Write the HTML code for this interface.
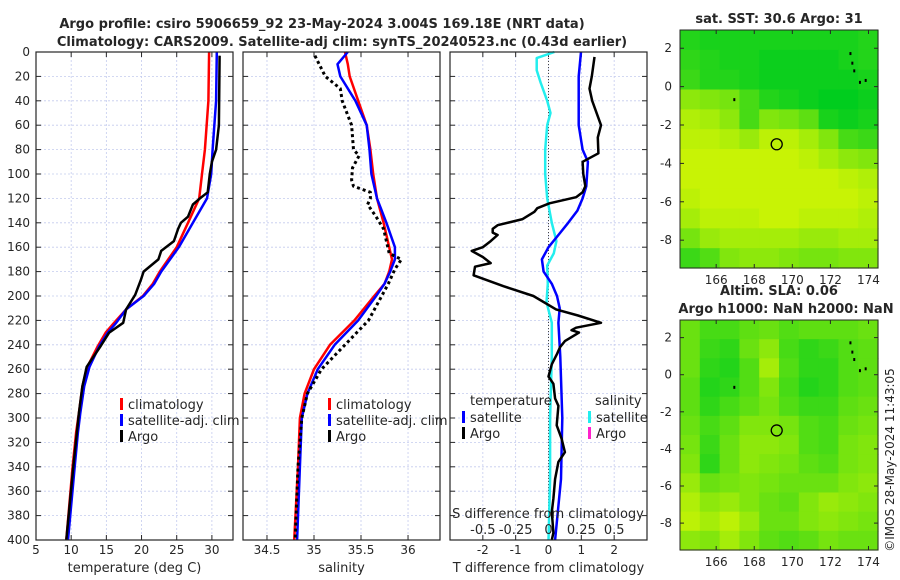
<!DOCTYPE html>
<html><head><meta charset="utf-8"><style>
html,body{margin:0;padding:0;background:#fff;}
svg{display:block;font-family:"DejaVu Sans","Liberation Sans",sans-serif;}
</style></head><body>
<svg id="c" width="900" height="580" viewBox="0 0 900 580" xmlns="http://www.w3.org/2000/svg"></svg>
<script>
// ---------- DATA ----------
const depthTicks=[0,20,40,60,80,100,120,140,160,180,200,220,240,260,280,300,320,340,360,380,400];
const tempTicks=[5,10,15,20,25,30];
const salTicks=[34.5,35,35.5,36];
const tdiffTicks=[-2,-1,0,1,2];
const sdiffTickLabels=["-0.5","-0.25","0","0.25","0.5"];
const sdiffTicks=[-0.5,-0.25,0,0.25,0.5];

const tClimDepth=[0,40,80,100,120,140,160,180,190,200,211,222,230,241,258,274,296,312,340,400];
const tClim=[29.6,29.5,29.0,28.6,28.2,26.6,25.0,22.6,21.6,20.2,17.8,16.1,14.9,13.8,12.3,11.6,11.1,10.7,10.2,9.3];
const tSat=[30.7,30.6,30.1,29.9,29.3,27.3,25.3,22.8,21.8,20.3,17.8,16.4,15.2,14.0,12.6,11.85,11.3,10.95,10.5,9.55];
const tArgoDepth=[3,60,80,90,100,115,120,125,135,140,145,155,163,170,180,187,199,211,222,230,241,258,274,296,340,400];
const tArgo=[31.1,31.0,30.6,30.0,29.7,29.4,28.3,27.3,26.6,25.6,25.2,24.6,22.8,22.4,20.3,19.9,19.1,17.8,17.4,15.4,14.2,12.2,11.6,11.1,10.3,9.3];

const sClimDepth=[0,10,20,40,60,80,100,120,140,160,170,180,190,200,220,240,260,280,300,340,400];
const sClim=[35.33,35.36,35.38,35.47,35.56,35.6,35.63,35.67,35.74,35.8,35.83,35.8,35.75,35.64,35.43,35.17,35.0,34.9,34.85,34.83,34.79];
const sSat=[35.36,35.25,35.28,35.44,35.56,35.59,35.61,35.67,35.77,35.86,35.86,35.81,35.75,35.66,35.47,35.22,35.04,34.93,34.87,34.85,34.82];
const sArgoDepth=[3,20,30,40,60,80,85,95,105,110,115,120,125,135,145,165,170,178,190,200,220,240,260,280,300,340,400];
const sArgo=[35.01,35.12,35.28,35.3,35.4,35.42,35.48,35.41,35.4,35.42,35.6,35.6,35.57,35.66,35.74,35.8,35.93,35.86,35.79,35.72,35.58,35.33,35.08,34.93,34.87,34.83,34.8];

const dTArgoDepth=[4,20,30,40,60,70,83,90,100,110,115,119,124,128,131,137,142,145,148,150,155,160,163,168,173,176,183,192,200,211,216,222,226,228,230,237,242,248,256,266,272,284,290,306,317,328,336,350,366,377,394,400];
const dTArgo=[1.4,1.32,1.25,1.33,1.6,1.5,1.52,1.04,1.06,1.12,1.04,0.84,0.03,-0.34,-0.43,-0.79,-1.55,-1.7,-1.7,-1.55,-1.76,-2.0,-2.34,-2.0,-1.76,-2.24,-2.28,-1.37,-0.46,0.23,0.9,1.6,0.84,0.7,0.93,0.5,0.35,0.25,0.1,0.0,0.15,0.2,0.3,0.25,0.4,0.5,0.3,0.2,0.15,0.1,0.15,0.1];
const dTSatDepth=[0,20,60,80,90,110,120,130,140,150,160,170,180,190,200,210,222,250,300,350,400];
const dTSat=[0.99,0.92,0.92,1.04,1.2,1.15,1.04,0.88,0.6,0.3,0.0,-0.2,-0.15,0.1,0.26,0.34,0.3,0.36,0.42,0.38,0.2];
const dSSatDepth=[0,5,15,25,40,50,60,80,100,120,140,155,165,175,190,205,222,250,300,350,400];
const dSSat=[0.045,-0.09,-0.09,-0.06,-0.01,0.015,-0.01,-0.025,-0.025,-0.01,0.025,0.06,0.04,-0.01,-0.005,-0.015,0.025,0.025,0.012,0.012,0.0];

const lonTicks=[166,168,170,172,174];
const latTicks=[2,0,-2,-4,-6,-8];
const sstGrid=[
[0.15,0.1,0.1,0.1,0.1,0.1,0.1,0.1,0.1,0.15],
[0.2,0.15,0.1,0.1,0.05,0.05,0.05,0.05,0.1,0.15],
[0.25,0.15,0.15,0.1,0.05,0.05,0.05,0.05,0.05,0.1],
[0.6,0.55,0.5,0.3,0.15,0.1,0.05,0.0,0.0,0.05],
[0.75,0.7,0.6,0.3,0.55,0.5,0.4,0.1,0.05,0.1],
[0.8,0.8,0.75,0.65,0.8,0.8,0.7,0.55,0.3,0.25],
[0.85,0.85,0.85,0.85,0.85,0.85,0.8,0.7,0.6,0.55],
[0.85,0.85,0.85,0.85,0.85,0.85,0.85,0.85,0.8,0.75],
[0.8,0.85,0.85,0.85,0.85,0.85,0.85,0.85,0.85,0.8],
[0.7,0.8,0.8,0.8,0.85,0.85,0.8,0.8,0.8,0.75],
[0.5,0.65,0.7,0.7,0.7,0.7,0.65,0.65,0.7,0.7],
[0.25,0.35,0.55,0.6,0.6,0.55,0.5,0.5,0.55,0.55]];
const slaGrid=[
[0.45,0.3,0.3,0.4,0.45,0.35,0.4,0.4,0.4,0.45],
[0.45,0.25,0.2,0.45,0.6,0.3,0.2,0.25,0.35,0.4],
[0.45,0.2,0.15,0.35,0.7,0.35,0.2,0.2,0.35,0.4],
[0.4,0.15,0.2,0.35,0.55,0.3,0.15,0.2,0.35,0.4],
[0.4,0.2,0.3,0.4,0.5,0.35,0.25,0.25,0.4,0.45],
[0.45,0.3,0.4,0.55,0.55,0.5,0.35,0.3,0.45,0.5],
[0.5,0.25,0.45,0.6,0.6,0.55,0.35,0.3,0.5,0.55],
[0.55,0.2,0.45,0.6,0.55,0.5,0.4,0.35,0.5,0.55],
[0.65,0.45,0.5,0.55,0.5,0.45,0.45,0.45,0.55,0.6],
[0.75,0.6,0.65,0.55,0.45,0.4,0.55,0.65,0.6,0.55],
[0.8,0.7,0.8,0.65,0.45,0.45,0.55,0.6,0.55,0.5],
[0.6,0.55,0.7,0.55,0.4,0.35,0.4,0.5,0.45,0.45]];

// ---------- DRAW ----------
const svg=document.getElementById('c');
const NS='http://www.w3.org/2000/svg';
function mk(tag,attrs,parent){const e=document.createElementNS(NS,tag);for(const k in attrs)e.setAttribute(k,attrs[k]);(parent||svg).appendChild(e);return e;}
function txt(x,y,s,size,anchor,weight,parent){const t=mk('text',{x:x,y:y,'font-size':size,'text-anchor':anchor||'middle','font-weight':weight||'normal',fill:'#262626'},parent);t.textContent=s;return t;}

const PTOP=52,PBOT=540;
const yD=d=>PTOP+(d/400)*(PBOT-PTOP);
const P1={l:36,r:233,min:5,max:33};
const P2={l:243,r:440,min:34.245,max:36.34};
const P3={l:450,r:647,min:-3,max:3};
const xs=(p,v)=>p.l+(v-p.min)/(p.max-p.min)*(p.r-p.l);

function panel(p,ticks,labels,name,title){
  const g=mk('g',{});
  
  
  mk('rect',{x:p.l,y:PTOP,width:p.r-p.l,height:PBOT-PTOP,fill:'#fff'},g);
  depthTicks.forEach(d=>{mk('line',{x1:p.l,x2:p.r,y1:yD(d),y2:yD(d),stroke:'#c4cbee','stroke-width':0.8,'stroke-dasharray':'2,2'},g);
    mk('line',{x1:p.l,x2:p.l+5,y1:yD(d),y2:yD(d),stroke:'#262626'},g);mk('line',{x1:p.r-5,x2:p.r,y1:yD(d),y2:yD(d),stroke:'#262626'},g);});
  ticks.forEach((v,i)=>{const x=xs(p,v);mk('line',{x1:x,x2:x,y1:PTOP,y2:PBOT,stroke:'#c4cbee','stroke-width':0.8,'stroke-dasharray':'2,2'},g);
    mk('line',{x1:x,x2:x,y1:PBOT,y2:PBOT-5,stroke:'#262626'},g);mk('line',{x1:x,x2:x,y1:PTOP,y2:PTOP+5,stroke:'#262626'},g);
    const t=txt(x,554,labels[i],12,'middle','normal',g);});
  const at=txt((p.l+p.r)/2,572,title,13,'middle','normal',g);
  
  return g;
}
function frame(p,g){mk('rect',{x:p.l,y:PTOP,width:p.r-p.l,height:PBOT-PTOP,fill:'none',stroke:'#262626','stroke-width':1.2},g);}
function line(p,xv,dv,color,w,name,dash,g){
  const pts=xv.map((v,i)=>xs(p,v).toFixed(1)+','+yD(dv[i]).toFixed(1)).join(' ');
  const e=mk('polyline',{points:pts,fill:'none',stroke:color,'stroke-width':w,'stroke-linejoin':'round'},g);
  if(dash)e.setAttribute('stroke-dasharray',dash);
  
  
}
function legend(x,y,items,g){items.forEach((it,i)=>{const yy=y+i*16;
  const b=mk('rect',{x:x,y:yy-11,width:3,height:12,fill:it[1]},g);
  
  const t=txt(x+8,yy,it[0],13,'start','normal',g);});}

depthTicks.forEach(d=>{const t=txt(30,yD(d)+4,String(d),12,'end');});

const g1=panel(P1,tempTicks,tempTicks.map(String),'temperature-panel','temperature (deg C)');
line(P1,tClim,tClimDepth,'#ff0000',2.5,'temp-climatology-line',null,g1);
line(P1,tSat,tClimDepth,'#0000ff',2.5,'temp-satellite-line',null,g1);
line(P1,tArgo,tArgoDepth,'#000000',2.5,'temp-argo-line',null,g1);
frame(P1,g1);

const g2=panel(P2,salTicks,salTicks.map(String),'salinity-panel','salinity');
line(P2,sClim,sClimDepth,'#ff0000',2.5,'sal-climatology-line',null,g2);
line(P2,sSat,sClimDepth,'#0000ff',2.5,'sal-satellite-line',null,g2);
line(P2,sArgo,sArgoDepth,'#000000',3,'sal-argo-line','3,3',g2);
frame(P2,g2);

const g3=panel(P3,tdiffTicks,tdiffTicks.map(String),'difference-panel','T difference from climatology');
mk('line',{x1:xs(P3,0),x2:xs(P3,0),y1:PTOP,y2:PBOT,stroke:'#444','stroke-width':1,'stroke-dasharray':'1,2'},g3);
line(P3,dSSat.map(v=>v*4),dSSatDepth,'#22eeee',2.5,'sal-diff-satellite-line',null,g3);
line(P3,dTSat,dTSatDepth,'#0000ff',2.5,'temp-diff-satellite-line',null,g3);
line(P3,dTArgo,dTArgoDepth,'#000000',2.5,'temp-diff-argo-line',null,g3);
frame(P3,g3);

legend(120,409,[['climatology','#ff0000'],['satellite-adj. clim','#0000ff'],['Argo','#000000']],g1);
legend(328,409,[['climatology','#ff0000'],['satellite-adj. clim','#0000ff'],['Argo','#000000']],g2);
txt(470,405,'temperature',13,'start','normal',g3);
txt(595,405,'salinity',13,'start','normal',g3);
legend(462,422,[['satellite','#0000ff'],['Argo','#000000']],g3);
legend(588,422,[['satellite','#22eeee'],['Argo','#ff22cc']],g3);
txt(548,518,'S difference from climatology',13,'middle','normal',g3);
sdiffTicks.forEach((v,i)=>{const t=txt(xs(P3,v*4),534,sdiffTickLabels[i],13,'middle','normal',g3);});

let t=txt(322,28,'Argo profile: csiro 5906659_92 23-May-2024 3.004S 169.18E (NRT data)',13,'middle','bold');

t=txt(342,46,'Climatology: CARS2009. Satellite-adj clim: synTS_20240523.nc (0.43d earlier)',13,'middle','bold');


function col(v){const r=Math.round(0+v*235),g=Math.round(205+v*45),b=Math.round(30*(1-v));return `rgb(${r},${g},${b})`;}
function map(box,grid,name){
  const g=mk('g',{});
  
  
  const lonX=lo=>box.l+(lo-164.1)/(174.5-164.1)*(box.r-box.l);
  const latY=la=>box.t+(2.95-la)/(2.95+9.45)*(box.b-box.t);
  const R=grid.length,C=grid[0].length,cw=(box.r-box.l)/C,ch=(box.b-box.t)/R;
  grid.forEach((row,i)=>row.forEach((v,j)=>{const c=mk('rect',{x:box.l+j*cw,y:box.t+i*ch,width:cw+0.6,height:ch+0.6,fill:col(v)},g);
    
    }));
  [[173.0,1.8],[173.1,1.3],[173.2,0.9],[173.5,0.3],[173.8,0.4],[166.9,-0.6]].forEach(p=>mk('rect',{x:lonX(p[0]),y:latY(p[1]),width:2,height:3,fill:'#000'},g));
  const c=mk('circle',{cx:lonX(169.18),cy:latY(-3.004),r:5.5,fill:'none',stroke:'#000','stroke-width':1.3},g);
  
  
  mk('rect',{x:box.l,y:box.t,width:box.r-box.l,height:box.b-box.t,fill:'none',stroke:'#262626'},g);
  lonTicks.forEach(lo=>{const x=lonX(lo);mk('line',{x1:x,x2:x,y1:box.b,y2:box.b-4,stroke:'#262626'},g);mk('line',{x1:x,x2:x,y1:box.t,y2:box.t+4,stroke:'#262626'},g);
    txt(x,box.b+16,String(lo),12,'middle','normal',g);});
  latTicks.forEach(la=>{const y=latY(la);mk('line',{x1:box.l,x2:box.l+4,y1:y,y2:y,stroke:'#262626'},g);mk('line',{x1:box.r-4,x2:box.r,y1:y,y2:y,stroke:'#262626'},g);
    txt(box.l-8,y+4,String(la),12,'end','normal',g);});
}
map({l:680,r:878,t:30,b:268},sstGrid,'sst-map');
map({l:680,r:878,t:320,b:550},slaGrid,'sla-map');
t=txt(779,23,'sat. SST: 30.6 Argo: 31',13,'middle','bold');
t=txt(779,295,'Altim. SLA: 0.06',13,'middle','bold');
t=txt(786,313,'Argo h1000: NaN h2000: NaN',13,'middle','bold');
t=txt(0,0,'©IMOS 28-May-2024 11:43:05',12,'middle');t.setAttribute('transform','translate(894,460) rotate(-90)');

</script>
</body></html>
